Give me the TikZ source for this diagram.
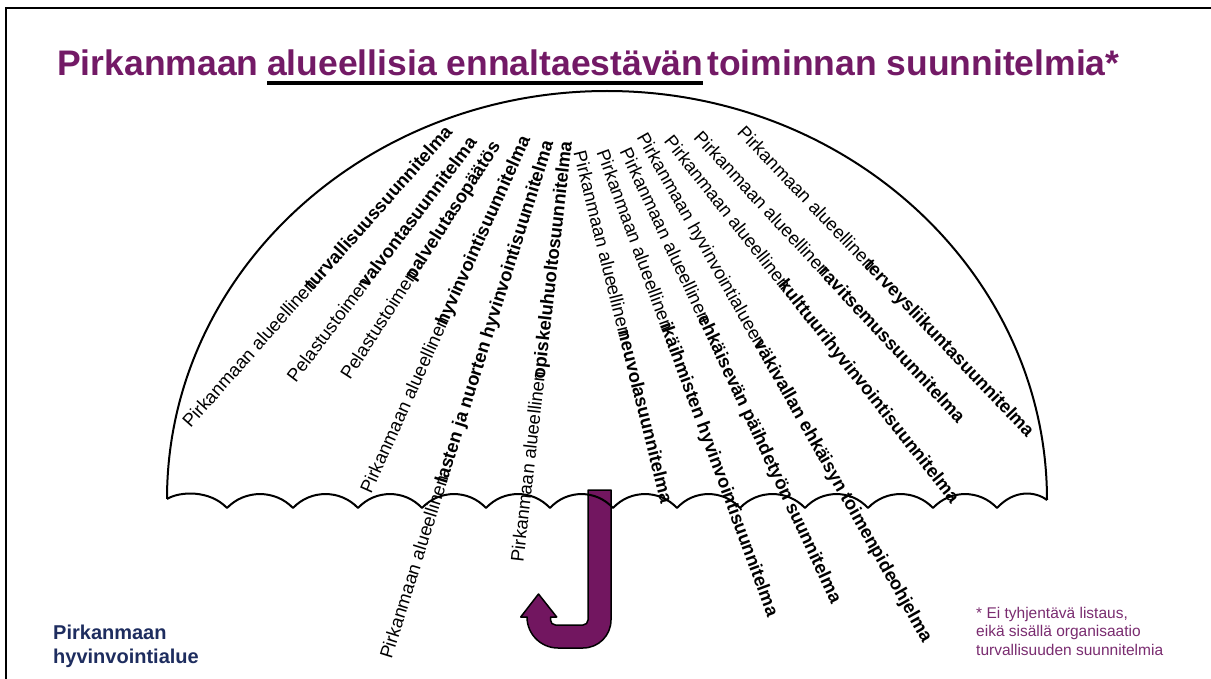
\documentclass[tikz,border=0pt]{standalone}
\usepackage{fontspec}
\setmainfont{Liberation Sans}
\definecolor{titlepurple}{RGB}{115,26,102}
\definecolor{handlepurple}{RGB}{114,22,96}
\definecolor{notepurple}{RGB}{122,44,112}
\definecolor{logoblue}{RGB}{30,45,95}
\newcommand{\lblkern}{\kern-0.4em}
\begin{document}
\begin{tikzpicture}[x=1pt,y=-1pt,
  lbl/.style={inner sep=0pt, font=\fontsize{18.4}{21}\selectfont},
  ttl/.style={inner sep=0pt, anchor=base west, text=titlepurple, font=\bfseries\fontsize{35.5}{40}\selectfont},
  logo/.style={inner sep=0pt, anchor=base west, text=logoblue, font=\bfseries\fontsize{20}{23}\selectfont},
  note/.style={inner sep=0pt, anchor=base west, text=notepurple, font=\fontsize{15.5}{18}\selectfont},
  umb/.style={draw=black, line width=2pt, line join=round},
  hand/.style={draw=black, line width=1.5pt, fill=handlepurple, line join=round}]
\useasboundingbox (0,0) rectangle (1211,679);
\fill[white] (0,0) rectangle (1211,679);
% frame
\draw[line width=2pt] (1211,8) -- (6,8) -- (6,679);
% title
\node[ttl] (t1) at (57,76) {Pirkanmaan};
\node[ttl] (t2) at (267,76) {alueellisia ennaltaestävän};
\node[ttl] (t3) at (707,76) {toiminnan suunnitelmia*};
\draw[line width=4.5pt] ([yshift=-7pt]t2.base west) -- ([yshift=-7pt]t2.base east);
% radial labels, left
\node[lbl, rotate=48.4] (l1) at (317,276.5) {Pirkanmaan alueellinen\lblkern\textbf{turvallisuussuunnitelma}};
\node[lbl, rotate=52.9] (l2) at (381.5,259) {Pelastustoimen\lblkern\textbf{valvontasuunnitelma}};
\node[lbl, rotate=57.3] (l3) at (421.5,261) {Pelastustoimen\lblkern\textbf{palvelutasopäätös}};
\node[lbl, rotate=65.8] (l4) at (446.5,315) {Pirkanmaan alueellinen\lblkern\textbf{hyvinvointisuunnitelma}};
\node[lbl, rotate=72.6] (l5) at (468,400) {Pirkanmaan alueellinen\lblkern\textbf{lasten ja nuorten hyvinvointisuunnitelma}};
\node[lbl, rotate=83.4] (l6) at (543,351.5) {Pirkanmaan alueellinen\lblkern\textbf{opiskeluhuoltosuunnitelma}};
% radial labels, right
\node[lbl, rotate=-76.0] (r1) at (623.5,327) {Pirkanmaan alueellinen\lblkern\textbf{neuvolasuunnitelma}};
\node[lbl, rotate=-69.8] (r2) at (686.5,383.5) {Pirkanmaan alueellinen\lblkern\textbf{ikäihmisten hyvinvointisuunnitelma}};
\node[lbl, rotate=-64.9] (r3) at (729.75,376) {Pirkanmaan alueellinen\lblkern\textbf{ehkäisevän päihdetyön suunnitelma}};
\node[lbl, rotate=-60.5] (r4) at (783.75,388) {Pirkanmaan hyvinvointialueen\lblkern\textbf{väkivallan ehkäisyn toimenpideohjelma}};
\node[lbl, rotate=-51.6] (r5) at (811,320) {Pirkanmaan alueellinen\lblkern\textbf{kulttuurihyvinvointisuunnitelma}};
\node[lbl, rotate=-47.2] (r6) at (830,276.5) {Pirkanmaan alueellinen\lblkern\textbf{ravitsemussuunnitelma}};
\node[lbl, rotate=-46.4] (r7) at (885,282.5) {Pirkanmaan alueellinen\lblkern\textbf{terveysliikuntasuunnitelma}};
% handle
\draw[hand] (588,490) -- (611,490) -- (611,620)
  .. controls (611,635.5) and (598.5,648) .. (583,648) -- (558,648)
  .. controls (540.9,648) and (527,634.1) .. (527,617)
  -- (520.7,617) -- (538.5,594) -- (556.7,617) -- (550.5,617) -- (550.5,620)
  .. controls (550.5,622.8) and (552.7,625) .. (555.5,625) -- (583,625)
  .. controls (585.8,625) and (588,622.8) .. (588,620) -- cycle;
% scalloped rim
\draw[umb] (167,499) .. controls (180,491) and (210,490) .. (227,508)
  .. controls +(17.8,-18.6) and +(-17.8,-18.6) .. (293,508)
  .. controls +(17.5,-18.6) and +(-17.5,-18.6) .. (358,508)
  .. controls +(17.3,-18.6) and +(-17.3,-18.6) .. (422,508)
  .. controls +(17.3,-18.6) and +(-17.3,-18.6) .. (486,508)
  .. controls +(17.3,-18.6) and +(-17.3,-18.6) .. (550,508)
  .. controls +(17,-18.6) and +(-17,-18.6) .. (613,508)
  .. controls +(17.3,-18.6) and +(-17.3,-18.6) .. (677,508)
  .. controls +(17,-18.6) and +(-17,-18.6) .. (740,508)
  .. controls +(17.5,-18.6) and +(-17.5,-18.6) .. (805,508)
  .. controls +(17,-18.6) and +(-17,-18.6) .. (868,508)
  .. controls +(17.5,-18.6) and +(-17.5,-18.6) .. (933,508)
  .. controls +(17.3,-18.6) and +(-17.3,-18.6) .. (997,508)
  .. controls (1014,489.5) and (1035,491) .. (1047,500);
% dome
\draw[umb] (167,499) .. controls (167,273.7) and (364,91) .. (607,91)
  .. controls (850,91) and (1047,274.7) .. (1047,500);
% logo
\node[logo] (g1) at (53,639) {Pirkanmaan};
\node[logo] (g2) at (53,663) {hyvinvointialue};
% note
\node[note] (n1) at (976,618) {* Ei tyhjentävä listaus,};
\node[note] (n2) at (976,636.5) {eikä sisällä organisaatio};
\node[note] (n3) at (976,655) {turvallisuuden suunnitelmia};
\end{tikzpicture}
\end{document}
